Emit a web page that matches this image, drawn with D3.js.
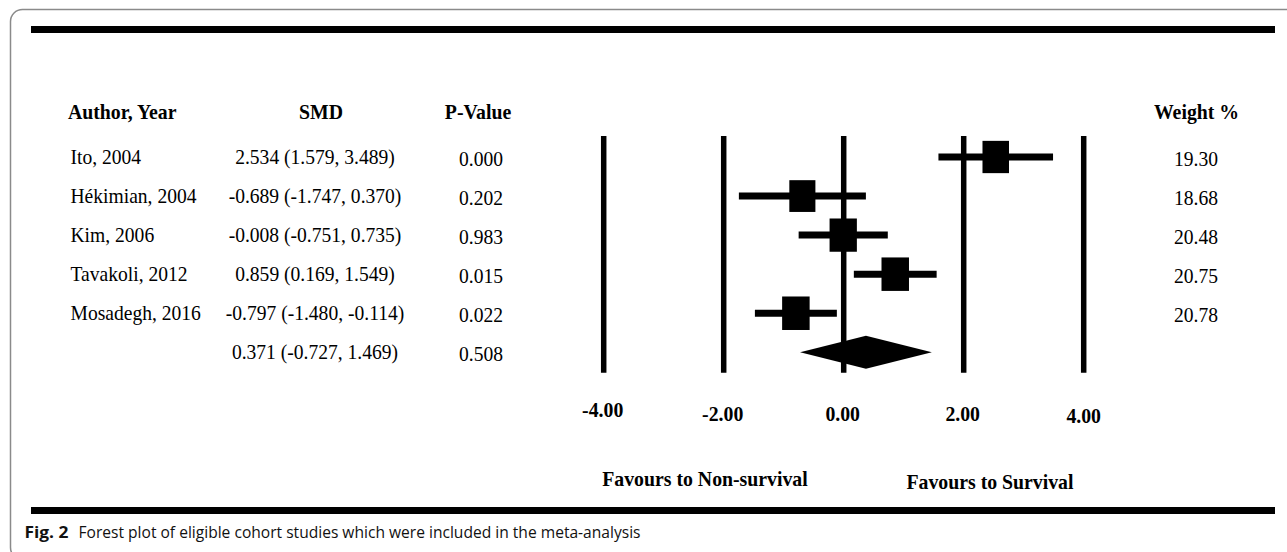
<!DOCTYPE html>
<html>
<head>
<meta charset="utf-8">
<script src="https://cdn.jsdelivr.net/npm/d3@7"></script>
<style>
  html, body { margin: 0; padding: 0; background: #fff; }
  svg { display: block; }
</style>
</head>
<body>
<svg id="chart" width="1287" height="552"></svg>
<script>
// ---- data ----
const studies   = ["Ito, 2004", "Hékimian, 2004", "Kim, 2006", "Tavakoli, 2012", "Mosadegh, 2016"];
const smd       = [2.534, -0.689, -0.008, 0.859, -0.797];
const ciLower   = [1.579, -1.747, -0.751, 0.169, -1.480];
const ciUpper   = [3.489, 0.370, 0.735, 1.549, -0.114];
const pValues   = ["0.000", "0.202", "0.983", "0.015", "0.022"];
const weights   = [19.30, 18.68, 20.48, 20.75, 20.78];
const pooledSMD = 0.371;
const pooledLower = -0.727;
const pooledUpper = 1.469;
const pooledP   = "0.508";
const tickValues = [-4, -2, 0, 2, 4];
const headers   = ["Author, Year", "SMD", "P-Value", "Weight %"];
const favourLabels = ["Favours to Non-survival", "Favours to Survival"];
const captionBold = "Fig. 2";
const captionText = "Forest plot of eligible cohort studies which were included in the meta-analysis";

// ---- formatting (hyphen-minus, as in the figure) ----
const loc = d3.formatLocale({decimal: ".", thousands: ",", grouping: [3], currency: ["", ""], minus: "-"});
const f3 = loc.format(".3f");
const f2 = loc.format(".2f");

const svg = d3.select("#chart");
const serif = "'Liberation Serif', 'Times New Roman', Times, serif";

// frame
svg.append("rect")
  .attr("x", 10.5).attr("y", 9.5).attr("width", 1320).attr("height", 550)
  .attr("rx", 12).attr("ry", 12)
  .attr("fill", "none").attr("stroke", "#8a8a8a").attr("stroke-width", 1.5);

// thick rules
svg.append("rect").attr("x", 31).attr("y", 26).attr("width", 1244).attr("height", 7).attr("fill", "#000");
svg.append("rect").attr("x", 31).attr("y", 507).attr("width", 1244).attr("height", 7).attr("fill", "#000");

// scales
const x = d3.scaleLinear().domain([-4, 4]).range([603.7, 1083.7]);
const y = d3.scaleLinear().domain([0, studies.length]).range([157, 352.3]);
const sizeW = d3.scaleSqrt().domain([0, d3.max(weights)]).range([0, 27.5]);
const aspect = 33.5 / 27.5;

// condensed serif label helper (the original text is slightly narrow/tall)
function label(g, text, cx, baseline, opts) {
  const o = Object.assign({anchor: "middle", bold: false, size: 21.5, sx: 0.91}, opts || {});
  return g.append("text")
    .attr("transform", `translate(${cx},${baseline}) scale(${o.sx},1)`)
    .attr("text-anchor", o.anchor)
    .attr("font-family", serif).attr("font-weight", o.bold ? "bold" : "normal").attr("font-size", o.size)
    .attr("fill", "#000")
    .text(text);
}
const B = {bold: true, size: 22, sx: 0.9};

// headers
const hdr = svg.append("g");
label(hdr, headers[0], 68, 119, Object.assign({}, B, {anchor: "start"}));
label(hdr, headers[1], 321, 119, B);
label(hdr, headers[2], 478, 119, B);
label(hdr, headers[3], 1196.5, 119, B);

// vertical reference lines
svg.append("g").selectAll("line").data(tickValues).join("line")
  .attr("x1", d => x(d)).attr("x2", d => x(d))
  .attr("y1", 136).attr("y2", 372.7)
  .attr("stroke", "#000").attr("stroke-width", 5.5);

// CI lines
svg.append("g").selectAll("line").data(studies).join("line")
  .attr("x1", (d, i) => x(ciLower[i])).attr("x2", (d, i) => x(ciUpper[i]))
  .attr("y1", (d, i) => y(i)).attr("y2", (d, i) => y(i))
  .attr("stroke", "#000").attr("stroke-width", 7);

// squares
svg.append("g").selectAll("rect").data(studies).join("rect")
  .attr("x", (d, i) => x(smd[i]) - sizeW(weights[i]) / 2)
  .attr("y", (d, i) => y(i) - sizeW(weights[i]) * aspect / 2)
  .attr("width", (d, i) => sizeW(weights[i]))
  .attr("height", (d, i) => sizeW(weights[i]) * aspect)
  .attr("fill", "#000");

// pooled diamond
const dy = y(studies.length);
svg.append("polygon")
  .attr("points", [
    [x(pooledLower), dy], [x(pooledSMD), dy - 16.5],
    [x(pooledUpper), dy], [x(pooledSMD), dy + 16.5]
  ].map(p => p.join(",")).join(" "))
  .attr("fill", "#000");

// table text
const body = svg.append("g");
studies.forEach((s, i) => label(body, s, 70.5, y(i) + 7, {anchor: "start"}));

const smdText = smd.map((v, i) => `${f3(v)} (${f3(ciLower[i])}, ${f3(ciUpper[i])})`)
  .concat([`${f3(pooledSMD)} (${f3(pooledLower)}, ${f3(pooledUpper)})`]);
smdText.forEach((s, i) => label(body, s, 315, y(i) + 7));

pValues.concat([pooledP]).forEach((s, i) => label(body, s, 481, y(i) + 8.5));
weights.forEach((w, i) => label(body, f2(w), 1196, y(i) + 9));

// tick labels
const tk = svg.append("g");
tickValues.forEach(t => label(tk, f2(t), x(t) - 1 + (t === 4 ? 1 : 0), t === -4 ? 417 : (t === 4 ? 422.5 : 420.5), B));

// favour labels
label(tk, favourLabels[0], 705, 486, B);
label(tk, favourLabels[1], 990, 488.5, B);

// caption
const sans = "'Open Sans', 'Noto Sans', sans-serif";
svg.append("text")
  .attr("x", 24.5).attr("y", 537.5)
  .attr("font-family", sans).attr("font-size", 16).attr("font-weight", "bold")
  .attr("fill", "#111")
  .attr("textLength", 44).attr("lengthAdjust", "spacingAndGlyphs")
  .text(captionBold);
svg.append("text")
  .attr("x", 78.5).attr("y", 537.5)
  .attr("font-family", sans).attr("font-size", 16)
  .attr("fill", "#111")
  .attr("textLength", 562).attr("lengthAdjust", "spacingAndGlyphs")
  .text(captionText);
</script>
</body>
</html>
